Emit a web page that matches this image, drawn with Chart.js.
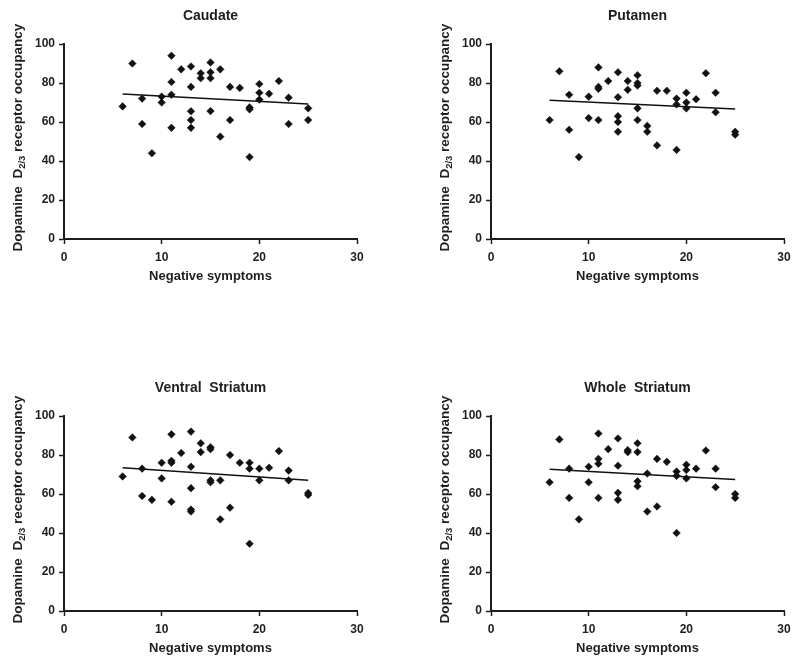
<!DOCTYPE html>
<html>
<head>
<meta charset="utf-8">
<script src="https://cdn.jsdelivr.net/npm/chart.js@4.4.1/dist/chart.umd.min.js"></script>
<style>
  html, body { margin: 0; padding: 0; background: #fff; }
  body { width: 800px; height: 662px; position: relative; overflow: hidden; }
  canvas { position: absolute; }
</style>
</head>
<body>
<canvas id="c1" width="373" height="290" style="left:0px;top:0px"></canvas>
<canvas id="c2" width="373" height="290" style="left:427px;top:0px"></canvas>
<canvas id="c3" width="373" height="290" style="left:0px;top:372px"></canvas>
<canvas id="c4" width="373" height="290" style="left:427px;top:372px"></canvas>
<script>
// ---- Data ----
const panelTitles = ["Caudate", "Putamen", "Ventral  Striatum", "Whole  Striatum"];
const xTicks = [0, 10, 20, 30];
const yTicks = [0, 20, 40, 60, 80, 100];
const fitX = [6, 25];

const caudateX = [6,7,8,8,9,10,10,11,11,11,11,12,13,13,13,13,13,14,14,15,15,15,15,16,16,17,17,18,19,19,19,20,20,20,21,22,23,23,25,25];
const caudateY = [68,90,72,59,44,73,70,94,80.5,74,57,87,88.5,78,65.5,61,57,85,82.5,90.5,85.5,82.5,65.6,87,52.5,78,61,77.5,67.5,66.5,42,79.5,75,71.5,74.5,81,72.5,59,67,61];
const caudateFit = [74.3, 69.2];

const putamenX = [6,7,8,8,9,10,10,11,11,11,11,12,13,13,13,13,13,14,14,15,15,15,15,15,16,16,17,17,18,19,19,19,20,20,20,21,22,23,23,25,25];
const putamenY = [61,86,74,56,42,73,62,88,78,77,61,81,85.5,72.7,63,60,55,81,76.5,84,80,78.7,67,61,58,55,76,48,76,72,69,45.7,75,70,67,71.7,85,75,65,55,53.5];
const putamenFit = [71.2, 66.7];

const ventralX = [6,7,8,8,9,10,10,11,11,11,11,12,13,13,13,13,13,14,14,15,15,15,15,16,16,17,17,18,19,19,19,20,20,21,22,23,23,25,25];
const ventralY = [69,89,73,59,57,76,68,90.6,77,76,56,81,92,74,63,52,51,86,81.5,84,83,67,66,67,47,80,53,76,76,73,34.5,73,67,73.5,82,72,67,60.5,59.5];
const ventralFit = [73.5, 67.0];

const wholeX = [6,7,8,8,9,10,10,11,11,11,11,12,13,13,13,13,14,14,15,15,15,15,16,16,17,17,18,19,19,19,20,20,20,21,22,23,23,25,25];
const wholeY = [66,88,73,58,47,74,66,91,78,75.5,58,83,88.5,74.5,60.6,57,82.5,81.5,86,81.5,66.5,64,70.5,51,78,53.6,76.5,71.5,69.3,40,75,72.3,68,73,82.3,73,63.5,60,58];
const wholeFit = [72.7, 67.4];

// ---- Drawing ----
const INK = '#1e1e1e';
const FONT = "'Liberation Sans', Arial, Helvetica, sans-serif";

const yLabelPlugin = {
  id: 'yLabel',
  afterDraw(chart) {
    const ctx = chart.ctx;
    const ca = chart.chartArea;
    const parts = [
      { t: 'Dopamine  D', size: 13.5, dy: 0 },
      { t: '2/3', size: 9.5, dy: 4 },
      { t: ' receptor occupancy', size: 13.5, dy: 0 }
    ];
    ctx.save();
    ctx.fillStyle = INK;
    ctx.textBaseline = 'middle';
    ctx.textAlign = 'left';
    let total = 0;
    parts.forEach(p => { ctx.font = 'bold ' + p.size + 'px ' + FONT; p.w = ctx.measureText(p.t).width; total += p.w; });
    ctx.translate(18.5, (ca.top + ca.bottom) / 2 - 4);
    ctx.rotate(-Math.PI / 2);
    let x = -total / 2;
    parts.forEach(p => {
      ctx.font = 'bold ' + p.size + 'px ' + FONT;
      ctx.fillText(p.t, x, p.dy);
      x += p.w;
    });
    ctx.restore();
  }
};

function makePanel(id, title, xs, ys, fit) {
  const pts = xs.map((x, i) => ({ x: x, y: ys[i] }));
  const fitPts = fitX.map((x, i) => ({ x: x, y: fit[i] }));
  new Chart(document.getElementById(id), {
    type: 'scatter',
    data: {
      datasets: [
        {
          data: pts,
          pointStyle: 'rectRot',
          pointRadius: 3.8,
          pointBackgroundColor: '#111',
          pointBorderColor: '#111',
          pointBorderWidth: 0.5,
          showLine: false
        },
        {
          data: fitPts,
          showLine: true,
          borderColor: '#111',
          borderWidth: 1.5,
          pointRadius: 0,
          fill: false
        }
      ]
    },
    options: {
      responsive: false,
      animation: false,
      devicePixelRatio: 1,
      layout: { padding: { left: 0, right: 16, top: 0, bottom: 0 } },
      plugins: {
        legend: { display: false },
        tooltip: { enabled: false },
        title: {
          display: true,
          text: title,
          fullSize: false,
          color: INK,
          font: { family: FONT, size: 14, weight: 'bold', lineHeight: 1.2 },
          padding: { top: 7.6, bottom: 19.6 }
        }
      },
      scales: {
        x: {
          type: 'linear',
          min: 0, max: 30,
          afterBuildTicks(scale) { scale.ticks = xTicks.map(v => ({ value: v })); },
          afterFit(scale) { scale.height = 51; },
          ticks: { color: INK, font: { family: FONT, size: 12, weight: 'bold' }, padding: 6, maxRotation: 0 },
          grid: { drawOnChartArea: false, drawTicks: true, tickLength: 5, tickWidth: 1.5, tickColor: INK },
          border: { display: true, color: INK, width: 2 },
          title: {
            display: true,
            text: 'Negative symptoms',
            color: INK,
            font: { family: FONT, size: 13, weight: 'bold', lineHeight: 1.2 },
            padding: { top: 0, bottom: 6 }
          }
        },
        y: {
          type: 'linear',
          min: 0, max: 100,
          afterBuildTicks(scale) { scale.ticks = yTicks.map(v => ({ value: v })); },
          afterFit(scale) { scale.width = 64; },
          ticks: { color: INK, font: { family: FONT, size: 12, weight: 'bold' }, padding: 4 },
          grid: { drawOnChartArea: false, drawTicks: true, tickLength: 5, tickWidth: 1.5, tickColor: INK },
          border: { display: true, color: INK, width: 2 }
        }
      }
    },
    plugins: [yLabelPlugin]
  });
}

makePanel('c1', panelTitles[0], caudateX, caudateY, caudateFit);
makePanel('c2', panelTitles[1], putamenX, putamenY, putamenFit);
makePanel('c3', panelTitles[2], ventralX, ventralY, ventralFit);
makePanel('c4', panelTitles[3], wholeX, wholeY, wholeFit);
</script>
</body>
</html>
